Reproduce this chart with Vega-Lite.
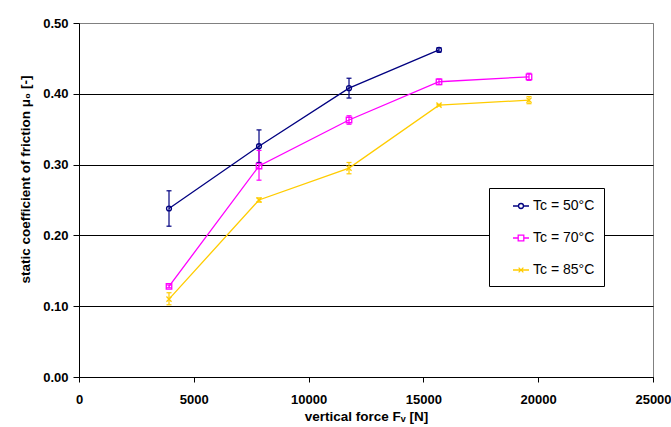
{
  "$schema": "https://vega.github.io/schema/vega-lite/v6.json",
  "width": 574,
  "height": 354,
  "autosize": {"type": "none"},
  "padding": {"left": 79, "top": 23, "right": 18, "bottom": 50},
  "background": "white",
  "config": {
    "font": "Liberation Sans",
    "view": {"stroke": "#808080", "strokeWidth": 1, "fill": "white"}
  },
  "data": {
    "values": [
      {"series": "Tc = 50°C", "F": 3920, "mu": 0.238, "lo": 0.213, "hi": 0.263},
      {"series": "Tc = 50°C", "F": 7840, "mu": 0.326, "lo": 0.303, "hi": 0.349},
      {"series": "Tc = 50°C", "F": 11760, "mu": 0.408, "lo": 0.394, "hi": 0.422},
      {"series": "Tc = 50°C", "F": 15680, "mu": 0.462, "lo": 0.459, "hi": 0.465},
      {"series": "Tc = 70°C", "F": 3920, "mu": 0.128, "lo": 0.126, "hi": 0.130},
      {"series": "Tc = 70°C", "F": 7840, "mu": 0.298, "lo": 0.278, "hi": 0.320},
      {"series": "Tc = 70°C", "F": 11760, "mu": 0.363, "lo": 0.357, "hi": 0.369},
      {"series": "Tc = 70°C", "F": 15680, "mu": 0.417, "lo": 0.413, "hi": 0.421},
      {"series": "Tc = 70°C", "F": 19600, "mu": 0.424, "lo": 0.419, "hi": 0.429},
      {"series": "Tc = 85°C", "F": 3920, "mu": 0.110, "lo": 0.102, "hi": 0.119},
      {"series": "Tc = 85°C", "F": 7840, "mu": 0.250, "lo": 0.247, "hi": 0.253},
      {"series": "Tc = 85°C", "F": 11760, "mu": 0.295, "lo": 0.287, "hi": 0.303},
      {"series": "Tc = 85°C", "F": 15680, "mu": 0.384, "lo": 0.383, "hi": 0.385},
      {"series": "Tc = 85°C", "F": 19600, "mu": 0.391, "lo": 0.386, "hi": 0.396}
    ]
  },
  "encoding": {
    "x": {
      "field": "F", "type": "quantitative",
      "scale": {"domain": [0, 25000], "nice": false, "zero": true},
      "axis": {
        "title": "vertical force Fᵥ [N]",
        "values": [0, 5000, 10000, 15000, 20000, 25000],
        "format": "d",
        "grid": false,
        "domainColor": "black",
        "tickColor": "black",
        "tickSize": 5,
        "labelPadding": 11,
        "labelFont": "Liberation Sans",
        "labelFontWeight": "bold",
        "labelFontSize": 13,
        "labelColor": "black",
        "labelFlush": false,
        "titleFont": "Liberation Sans",
        "titleFontWeight": "bold",
        "titleFontSize": 13.5,
        "titleColor": "black",
        "titlePadding": 3
      }
    },
    "stroke": {
      "field": "series", "type": "nominal",
      "scale": {"domain": ["Tc = 50°C", "Tc = 70°C", "Tc = 85°C"], "range": ["#000080", "#FF00FF", "#FFCC00"]},
      "legend": {
        "title": null,
        "orient": "none",
        "legendX": 410,
        "legendY": 165,
        "padding": 9,
        "symbolOffset": 14,
        "labelOffset": 3,
        "rowPadding": 16,
        "symbolSize": 256,
        "symbolStrokeWidth": 1.3,
        "symbolFillColor": "transparent",
        "strokeColor": "black",
        "fillColor": "white",
        "labelFont": "Liberation Sans",
        "labelFontSize": 14,
        "labelColor": "black",
        "labelExpr": "datum.label + '\u00a0\u00a0\u00a0\u00a0\u00a0'"
      }
    }
  },
  "layer": [
    {
      "mark": {"type": "rule", "strokeWidth": 1.2},
      "encoding": {
        "y": {
          "field": "lo", "type": "quantitative",
          "scale": {"domain": [0, 0.5], "nice": false},
          "axis": {
            "title": "static coefficient of friction μ₀ [-]",
            "values": [0, 0.1, 0.2, 0.3, 0.4, 0.5],
            "format": ".2f",
            "grid": true,
            "gridColor": {"condition": {"test": "datum.value >= 0.5", "value": "#808080"}, "value": "black"},
            "gridWidth": 1,
            "domainColor": "black",
            "tickColor": "black",
            "tickSize": 6,
            "labelPadding": 5,
            "labelFont": "Liberation Sans",
            "labelFontWeight": "bold",
            "labelFontSize": 13,
            "labelColor": "black",
            "labelFlush": false,
            "titleFont": "Liberation Sans",
            "titleFontWeight": "bold",
            "titleFontSize": 13.5,
            "titleColor": "black",
            "titleX": -47,
            "titleY": 156,
            "titleAlign": "center",
            "titleBaseline": "bottom",
            "titleAngle": -90
          }
        },
        "y2": {"field": "hi"}
      }
    },
    {
      "mark": {"type": "rule", "strokeWidth": 1.2, "xOffset": -2.5, "x2Offset": 2.5},
      "encoding": {
        "x2": {"field": "F"},
        "y": {"field": "lo", "type": "quantitative"}
      }
    },
    {
      "mark": {"type": "rule", "strokeWidth": 1.2, "xOffset": -2.5, "x2Offset": 2.5},
      "encoding": {
        "x2": {"field": "F"},
        "y": {"field": "hi", "type": "quantitative"}
      }
    },
    {
      "mark": {"type": "line", "strokeWidth": 1.3},
      "encoding": {"y": {"field": "mu", "type": "quantitative"}}
    },
    {
      "transform": [{"filter": "datum.series === 'Tc = 50°C'"}],
      "mark": {"type": "point", "shape": "circle", "filled": false, "strokeWidth": 1.3, "opacity": 1, "size": 24},
      "encoding": {"y": {"field": "mu", "type": "quantitative"}}
    },
    {
      "transform": [{"filter": "datum.series === 'Tc = 70°C'"}],
      "mark": {"type": "point", "shape": "square", "filled": false, "strokeWidth": 1.3, "opacity": 1, "size": 30},
      "encoding": {"y": {"field": "mu", "type": "quantitative"}}
    },
    {
      "transform": [{"filter": "datum.series === 'Tc = 85°C'"}],
      "mark": {"type": "point", "shape": "M-1,-1L1,1M-1,1L1,-1", "filled": false, "strokeWidth": 1.3, "opacity": 1, "size": 26},
      "encoding": {"y": {"field": "mu", "type": "quantitative"}}
    },
    {
      "transform": [{"filter": "false"}],
      "mark": {"type": "point", "filled": false, "strokeWidth": 1.3, "opacity": 1},
      "encoding": {
        "y": {"field": "mu", "type": "quantitative"},
        "shape": {
          "field": "series", "type": "nominal",
          "scale": {
            "domain": ["Tc = 50°C", "Tc = 70°C", "Tc = 85°C"],
            "range": [
              "M-1,0H-0.31M0.31,0H1M0.31,0A0.31,0.31 0 1,1 -0.31,0A0.31,0.31 0 1,1 0.31,0",
              "M-1,0H-0.35M0.35,0H1M-0.35,-0.35H0.35V0.35H-0.35Z",
              "M-1,0H1M-0.3,-0.3L0.3,0.3M-0.3,0.3L0.3,-0.3"
            ]
          },
          "legend": {
            "title": null,
            "orient": "none",
            "legendX": 410,
            "legendY": 165,
            "padding": 9,
            "symbolOffset": 14,
            "labelOffset": 3,
            "rowPadding": 16,
            "symbolSize": 256,
            "symbolStrokeWidth": 1.3,
            "symbolFillColor": "transparent",
            "strokeColor": "black",
            "fillColor": "white",
            "labelFont": "Liberation Sans",
            "labelFontSize": 14,
            "labelColor": "black",
            "labelExpr": "datum.label + '\u00a0\u00a0\u00a0\u00a0\u00a0'"
          }
        }
      }
    }
  ]
}
